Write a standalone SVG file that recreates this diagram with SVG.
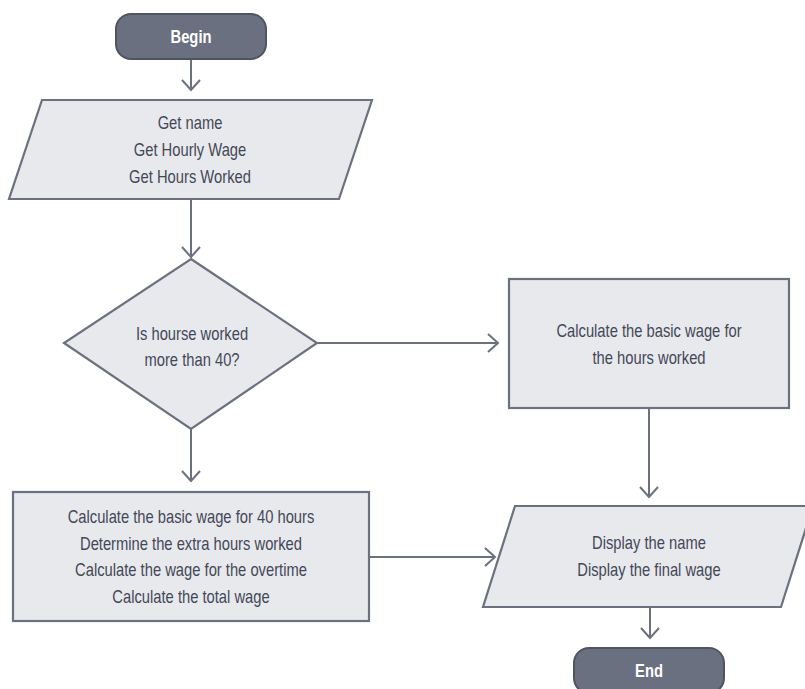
<svg xmlns="http://www.w3.org/2000/svg" width="805" height="689" viewBox="0 0 805 689">
  <style>
    .term { fill: #6b7080; stroke: #4f5461; stroke-width: 2; }
    .box { fill: #e8e9ed; stroke: #6b717e; stroke-width: 2.2; }
    .lbl { font-family: "Liberation Sans", Arial, sans-serif; font-size: 18px; fill: #434857; text-anchor: middle; }
    .tlbl { font-family: "Liberation Sans", Arial, sans-serif; font-size: 18px; font-weight: bold; fill: #ffffff; text-anchor: middle; }
    .conn { fill: none; stroke: #6b717e; stroke-width: 2; }
  </style>
  <defs>
    <marker id="arr" markerUnits="userSpaceOnUse" markerWidth="24" markerHeight="24" refX="12" refY="12" orient="auto" viewBox="0 0 24 24">
      <path d="M2,3 L12,12 L2,21" fill="none" stroke="#6b717e" stroke-width="2"/>
    </marker>
  </defs>
  <rect width="805" height="689" fill="#ffffff"/>

  <g id="connectors">
    <line class="conn" x1="191" y1="59" x2="191" y2="90" marker-end="url(#arr)"/>
    <line class="conn" x1="191" y1="199" x2="191" y2="257" marker-end="url(#arr)"/>
    <line class="conn" x1="191" y1="429" x2="191" y2="481" marker-end="url(#arr)"/>
    <line class="conn" x1="317" y1="343" x2="498" y2="343" marker-end="url(#arr)"/>
    <line class="conn" x1="649" y1="408" x2="649" y2="497" marker-end="url(#arr)"/>
    <line class="conn" x1="369" y1="557" x2="495" y2="557" marker-end="url(#arr)"/>
    <line class="conn" x1="650" y1="607" x2="650" y2="638" marker-end="url(#arr)"/>
  </g>

  <g id="begin">
    <rect class="term" x="116" y="14" width="150" height="45" rx="15" ry="15"/>
    <g transform="translate(191,0) scale(0.82,1)">
      <text class="tlbl" x="0" y="43">Begin</text>
    </g>
  </g>

  <g id="input">
    <polygon class="box" points="42,100 372,100 339,199 9,199"/>
    <g transform="translate(190,0) scale(0.82,1)">
      <text class="lbl" x="0" y="129">Get name</text>
      <text class="lbl" x="0" y="156">Get Hourly Wage</text>
      <text class="lbl" x="0" y="183">Get Hours Worked</text>
    </g>
  </g>

  <g id="decision">
    <polygon class="box" points="191,259 317,343 191,429 64,343"/>
    <g transform="translate(192,0) scale(0.82,1)">
      <text class="lbl" x="0" y="340.5">Is hourse worked</text>
      <text class="lbl" x="0" y="366.5">more than 40?</text>
    </g>
  </g>

  <g id="basic">
    <rect class="box" x="509" y="279" width="280" height="129"/>
    <g transform="translate(649,0) scale(0.82,1)">
      <text class="lbl" x="0" y="337.5">Calculate the basic wage for</text>
      <text class="lbl" x="0" y="364">the hours worked</text>
    </g>
  </g>

  <g id="overtime">
    <rect class="box" x="13" y="492" width="356" height="129"/>
    <g transform="translate(191,0) scale(0.82,1)">
      <text class="lbl" x="0" y="523.5">Calculate the basic wage for 40 hours</text>
      <text class="lbl" x="0" y="550">Determine the extra hours worked</text>
      <text class="lbl" x="0" y="576.5">Calculate the wage for the overtime</text>
      <text class="lbl" x="0" y="603">Calculate the total wage</text>
    </g>
  </g>

  <g id="display">
    <polygon class="box" points="515,506 813,506 781,607 483,607"/>
    <g transform="translate(649,0) scale(0.82,1)">
      <text class="lbl" x="0" y="549.5">Display the name</text>
      <text class="lbl" x="0" y="576">Display the final wage</text>
    </g>
  </g>

  <g id="end">
    <rect class="term" x="574" y="648" width="150" height="45" rx="15" ry="15"/>
    <g transform="translate(649,0) scale(0.82,1)">
      <text class="tlbl" x="0" y="677.5">End</text>
    </g>
  </g>
</svg>
